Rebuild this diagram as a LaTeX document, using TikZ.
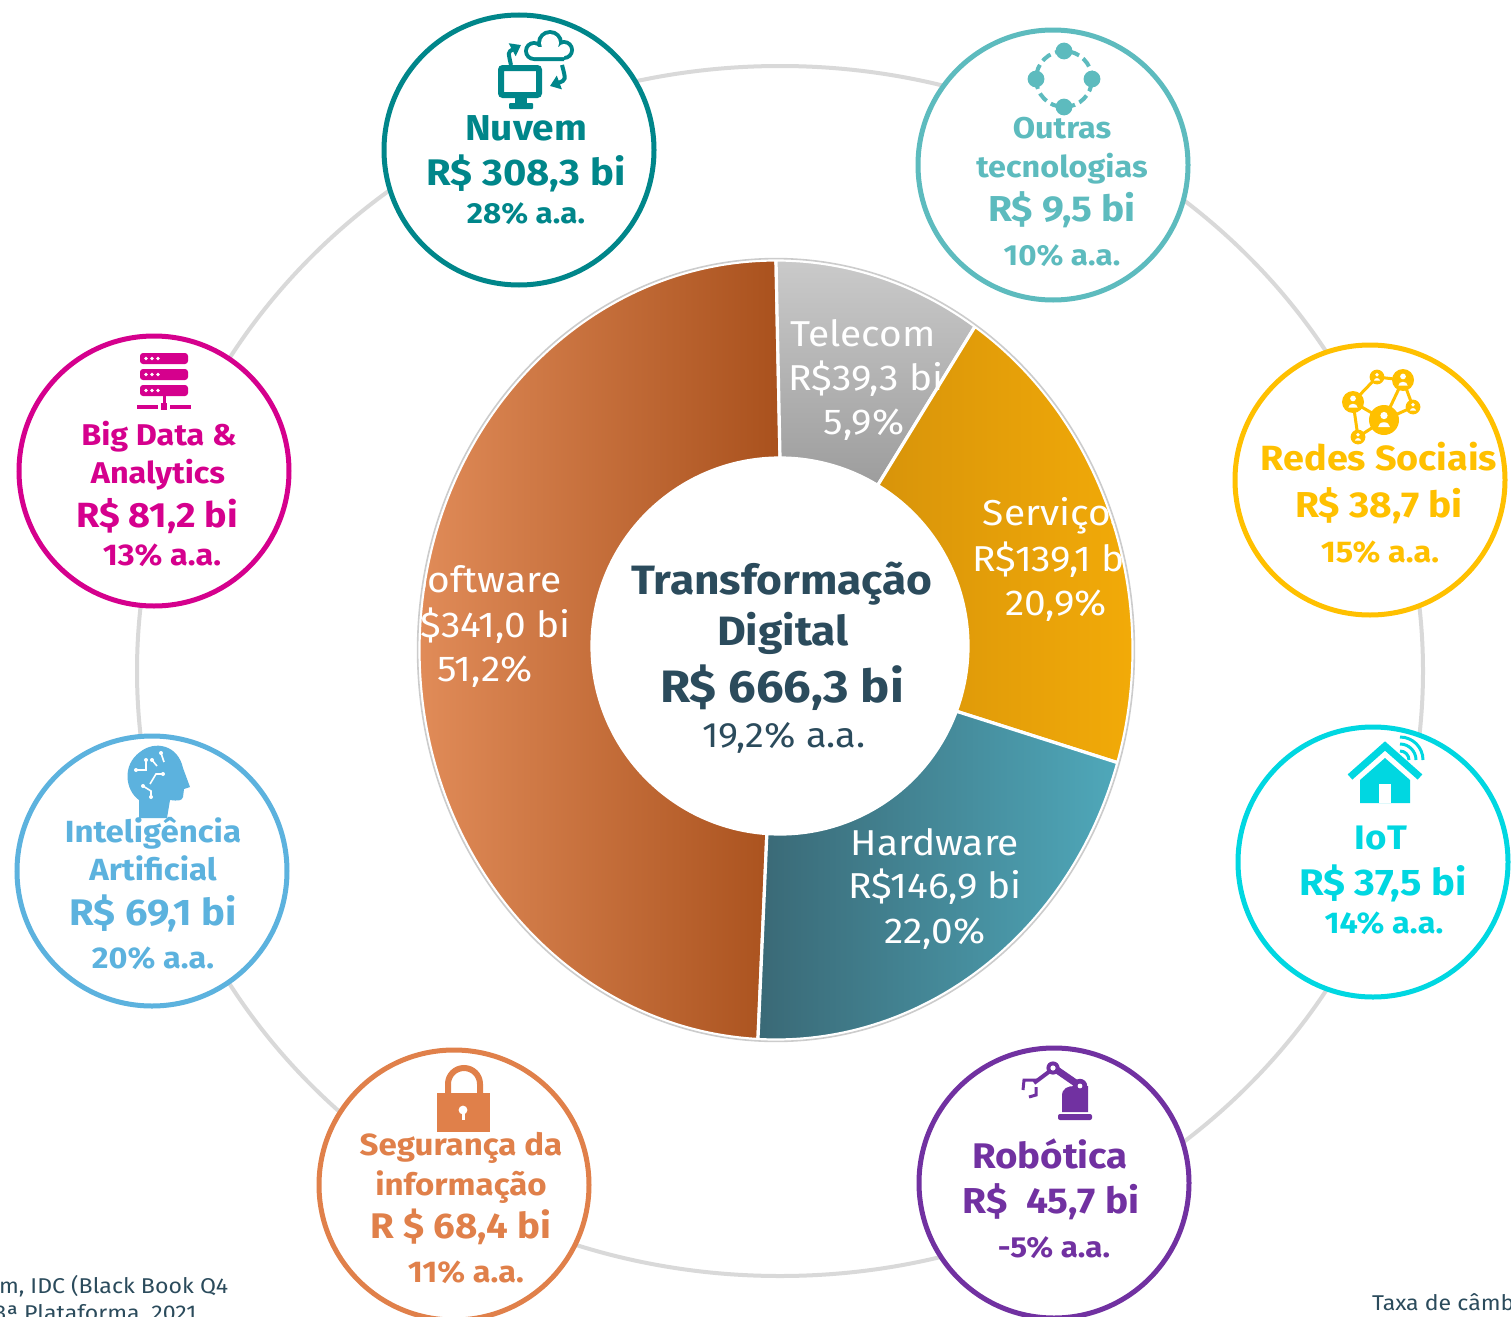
\documentclass[tikz,border=0pt]{standalone}
\usepackage{fontspec}
\setmainfont{Fira Sans}[FakeStretch=1.08]
\usetikzlibrary{calc,arrows.meta}
\definecolor{nuv}{HTML}{00868A}
\definecolor{outr}{HTML}{5DBBBE}
\definecolor{redes}{HTML}{FFC000}
\definecolor{bigd}{HTML}{D5008D}
\definecolor{iaC}{HTML}{5CB2DE}
\definecolor{iotC}{HTML}{00D7E1}
\definecolor{segC}{HTML}{E0804A}
\definecolor{robC}{HTML}{7131A1}
\definecolor{dark}{HTML}{2B4B5C}
\definecolor{ringC}{HTML}{D9D9D9}
\definecolor{swL}{HTML}{E28D5A}
\definecolor{swR}{HTML}{A9511D}
\definecolor{tcT}{HTML}{CACACA}
\definecolor{tcB}{HTML}{9D9D9D}
\definecolor{svL}{HTML}{D8940A}
\definecolor{svR}{HTML}{F5AD08}
\definecolor{hwL}{HTML}{3A6976}
\definecolor{hwR}{HTML}{4FA8BA}
\newcommand\myfs[1]{\fontsize{#1}{#1}\selectfont}
\newcommand\prs[3]{%
 \fill[white] (#1,{#2-0.32*#3}) circle[radius={#3*0.13pt}];
 \fill[white] ({#1-0.42*#3},{#2+0.5*#3}) arc[start angle=180,end angle=0,x radius={#3*0.21pt},y radius={#3*0.17pt}] -- cycle;}
\begin{document}
\begin{tikzpicture}[x=0.5pt,y=-0.5pt,
  txt/.style={inner sep=0pt,outer sep=0pt,anchor=base},
  bub/.style={circle,draw=#1,line width=2.5pt,fill=white,minimum size=135pt,inner sep=0pt},
  seg/.style={draw=white,line width=1.6pt},
  sl/.style={txt,text=white,font=\myfs{18}},
  foot/.style={txt,anchor=base west,text=dark,font=\myfs{10.7}}]
\useasboundingbox (0,0) rectangle (1511,1317);
\clip (0,0) rectangle (1511,1317);
\fill[white] (0,0) rectangle (1511,1317);
% gray ring
\draw[ringC,line width=2pt] (780,671) ellipse[x radius=321.5pt,y radius=302.5pt];
% bubbles
\node[bub=nuv] (cNuv) at (519,150) {};
\node[bub=outr] (cOut) at (1053,165) {};
\node[bub=redes] (cRed) at (1370,480) {};
\node[bub=bigd] (cBig) at (154,471) {};
\node[bub=iaC] (cIA) at (152,871) {};
\node[bub=iotC] (cIoT) at (1373,862) {};
\node[bub=segC] (cSeg) at (454,1185) {};
\node[bub=robC] (cRob) at (1054,1183) {};

% ---------- donut ----------
\coordinate (O) at (776,650);
\coordinate (I) at (780,646);
\path[seg,left color=swL,right color=swR] ($(I)+(-94:94pt)$) -- ($(O)+(-92.9:178.5pt and 195pt)$) arc[start angle=-92.9,end angle=-270,x radius=178.5pt,y radius=195pt] -- ($(I)+(90:94pt)$) arc[start angle=90,end angle=266,radius=94pt] -- cycle;
\path[seg,top color=tcT,bottom color=tcB] ($(I)+(90:94pt)$) -- ($(O)+(90:178.5pt and 195pt)$) arc[start angle=90,end angle=56.1,x radius=178.5pt,y radius=195pt] -- ($(I)+(58.7:94pt)$) arc[start angle=58.7,end angle=90,radius=94pt] -- cycle;
\path[seg,left color=svL,right color=svR] ($(I)+(58.7:94pt)$) -- ($(O)+(56.1:178.5pt and 195pt)$) arc[start angle=56.1,end angle=-16.8,x radius=178.5pt,y radius=195pt] -- ($(I)+(-20.3:94pt)$) arc[start angle=-20.3,end angle=58.7,radius=94pt] -- cycle;
\path[seg,left color=hwL,right color=hwR] ($(I)+(-20.3:94pt)$) -- ($(O)+(-16.8:178.5pt and 195pt)$) arc[start angle=-16.8,end angle=-92.9,x radius=178.5pt,y radius=195pt] -- ($(I)+(-94:94pt)$) arc[start angle=-94,end angle=-20.3,radius=94pt] -- cycle;
\draw[black!20,line width=0.8pt] (O) ellipse[x radius=179.2pt,y radius=195.7pt];
\begin{scope}
\clip (O) ellipse[x radius=178.5pt,y radius=195pt];
\node[sl] (tc1) at (863,346) {Telecom};
\node[sl] (tc2) at (866,390) {R\$39,3 bi};
\node[sl] (tc3) at (864,434) {5,9\%};
\node[sl] (sv1) at (1056,525) {Serviços};
\node[sl] (sv2) at (1054,571) {R\$139,1 bi};
\node[sl] (sv3) at (1056,615) {20,9\%};
\node[sl] (sw1) at (484,592) {Software};
\node[sl] (sw2) at (484,637) {R\$341,0 bi};
\node[sl] (sw3) at (485,681) {51,2\%};
\node[sl] (hw1) at (935,855) {Hardware};
\node[sl] (hw2) at (935,898) {R\$146,9 bi};
\node[sl] (hw3) at (935,943) {22,0\%};
\end{scope}
% center
\node[txt,text=dark,font=\bfseries\myfs{20.5}] (ct1) at (782,594) {Transformação};
\node[txt,text=dark,font=\bfseries\myfs{20.5}] (ct2) at (783,645) {Digital};
\node[txt,text=dark,font=\bfseries\myfs{22.7}] (ct3) at (782,702) {R\$ 666,3 bi};
\node[txt,text=dark,font=\myfs{17.6}] (ct4) at (784,747) {19,2\% a.a.};

% ---------- Nuvem ----------
\draw[nuv,line width=3pt,rounded corners=1pt] (501,68) rectangle (539,95);
\fill[nuv] (515,96) rectangle (527,104);
\fill[nuv,rounded corners=0.5pt] (509,103) rectangle (533,109);
\fill[nuv] (534,51) circle[radius=5pt] (550,43) circle[radius=6.5pt] (564,50) circle[radius=5pt] (534,44) rectangle (564,61);
\fill[white] (534,51) circle[radius=3pt] (550,43) circle[radius=4.5pt] (564,50) circle[radius=3pt] (534,47) rectangle (564,57);
\draw[nuv,line width=2pt,-{Triangle[length=5pt,width=7pt]}] (511,65) .. controls (508,52) .. (521,45);
\draw[nuv,line width=2pt,-{Triangle[length=5pt,width=7pt]}] (562,65) .. controls (566,80) .. (550,86);
\node[txt,text=nuv,font=\bfseries\myfs{18}] (nu1) at (526,140) {Nuvem};
\node[txt,text=nuv,font=\bfseries\myfs{18.5}] (nu2) at (526,185) {R\$ 308,3 bi};
\node[txt,text=nuv,font=\bfseries\myfs{14.5}] (nu3) at (526,223) {28\% a.a.};

% ---------- Outras ----------
\draw[outr,line width=2pt,dash pattern=on 5pt off 2.5pt,dash phase=1pt] (1064,79) circle[radius=14pt];
\fill[outr] (1064,51) circle[radius=4.2pt] (1036,79) circle[radius=4.2pt] (1092,79) circle[radius=4.2pt] (1064,107) circle[radius=4.2pt];
\node[txt,text=outr,font=\bfseries\myfs{15}] (ou1) at (1062,138) {Outras};
\node[txt,text=outr,font=\bfseries\myfs{15}] (ou2) at (1062,177) {tecnologias};
\node[txt,text=outr,font=\bfseries\myfs{18}] (ou3) at (1062,221) {R\$ 9,5 bi};
\node[txt,text=outr,font=\bfseries\myfs{14.5}] (ou4) at (1062,265) {10\% a.a.};

% ---------- Redes ----------
\draw[redes,line width=1.5pt] (1353,402) -- (1377,377) -- (1403,380) -- (1384,420) -- (1353,402) -- (1358,437) -- (1384,420) -- (1413,407) -- (1403,380);
\fill[redes] (1384,420) circle[radius=7.5pt] (1403,380) circle[radius=5.5pt] (1353,402) circle[radius=5.5pt] (1377,377) circle[radius=3.7pt] (1413,407) circle[radius=3.7pt] (1358,437) circle[radius=3.7pt];
\prs{1384}{420}{14}\prs{1403}{380}{11}\prs{1353}{402}{11}\prs{1377}{377}{7}\prs{1413}{407}{7}\prs{1358}{437}{7}
\node[txt,text=redes,font=\bfseries\myfs{17.5}] (re1) at (1379,470) {Redes Sociais};
\node[txt,text=redes,font=\bfseries\myfs{18}] (re2) at (1379,517) {R\$ 38,7 bi};
\node[txt,text=redes,font=\bfseries\myfs{15}] (re3) at (1380,562) {15\% a.a.};

% ---------- Big Data ----------
\foreach \yy in {353,369,385}{
  \fill[bigd,rounded corners=1.5pt] (140,\yy) rectangle (188,\yy+11);
  \fill[white] (146,\yy+5.5) circle[radius=0.9pt] (152,\yy+5.5) circle[radius=0.9pt] (158,\yy+5.5) circle[radius=0.9pt];}
\draw[bigd,line width=1.5pt] (164,396) -- (164,403);
\fill[bigd] (161,403) rectangle (167,410);
\draw[bigd,line width=2pt] (137,407) -- (158,407) (170,407) -- (191,407);
\node[txt,text=bigd,font=\bfseries\myfs{15}] (bd1) at (159,445) {Big Data \&};
\node[txt,text=bigd,font=\bfseries\myfs{15}] (bd2) at (158,483) {Analytics};
\node[txt,text=bigd,font=\bfseries\myfs{17.5}] (bd3) at (157,527) {R\$ 81,2 bi};
\node[txt,text=bigd,font=\bfseries\myfs{15}] (bd4) at (162,565) {13\% a.a.};

% ---------- IA ----------
\fill[iaC] (139,818) -- (139,800) .. controls (125,790) and (122,765) .. (140,752) .. controls (155,740) and (178,745) .. (183,768) -- (190,787) -- (184,789) -- (183,797) .. controls (182,801) and (178,801) .. (170,800) -- (167,818) -- cycle;
\draw[white,line width=0.8pt] (136,770) -- (146,770) -- (146,760) (150,784) -- (156,774) -- (163,774) (143,786) -- (151,791) -- (151,797) (161,753) -- (164,762) (152,760) -- (157,766);
\fill[white] (136,770) circle[radius=1pt] (146,760) circle[radius=1pt] (163,774) circle[radius=1pt] (143,786) circle[radius=1pt] (151,797) circle[radius=1pt] (161,753) circle[radius=1pt] (152,760) circle[radius=1pt];
\node[txt,text=iaC,font=\bfseries\myfs{15.3}] (ia1) at (153,842) {Inteligência};
\node[txt,text=iaC,font=\bfseries\myfs{15.3}] (ia2) at (153,880) {Artificial};
\node[txt,text=iaC,font=\bfseries\myfs{18.5}] (ia3) at (153,925) {R\$ 69,1 bi};
\node[txt,text=iaC,font=\bfseries\myfs{15}] (ia4) at (153,968) {20\% a.a.};

% ---------- IoT ----------
\draw[iotC,line width=3.5pt] (1350,777) -- (1385,746) -- (1420,777);
\fill[iotC] (1360,803) -- (1360,780) -- (1385,758) -- (1410,780) -- (1410,803) -- cycle;
\fill[white] (1379,784) rectangle (1391,803);
\draw[iotC,line width=1.5pt] (1409,760) arc[start angle=0,end angle=90,radius=4.5pt];
\draw[iotC,line width=1.5pt] (1416,760) arc[start angle=0,end angle=90,radius=8pt];
\draw[iotC,line width=1.5pt] (1423,760) arc[start angle=0,end angle=90,radius=11.5pt];
\node[txt,text=iotC,font=\bfseries\myfs{17}] (io1) at (1381,849) {IoT};
\node[txt,text=iotC,font=\bfseries\myfs{18.5}] (io2) at (1383,895) {R\$ 37,5 bi};
\node[txt,text=iotC,font=\bfseries\myfs{15}] (io3) at (1384,933) {14\% a.a.};

% ---------- Seguranca ----------
\draw[segC,line width=3pt] (448,1095) -- (448,1084) arc[start angle=180,end angle=0,radius=8pt] -- (480,1095);
\fill[segC] (437,1093) rectangle (490,1132);
\fill[white] (463,1110) circle[radius=2.2pt];
\fill[white] (461.5,1110) rectangle (464.5,1120);
\node[txt,text=segC,font=\bfseries\myfs{15.3}] (sg1) at (461,1155) {Segurança da};
\node[txt,text=segC,font=\bfseries\myfs{15.3}] (sg2) at (461,1195) {informação};
\node[txt,text=segC,font=\bfseries\myfs{17.8}] (sg3) at (461,1238) {R \$ 68,4 bi};
\node[txt,text=segC,font=\bfseries\myfs{15}] (sg4) at (466,1282) {11\% a.a.};

% ---------- Robotica ----------
\fill[robC,rounded corners=1pt] (1058,1114) rectangle (1092,1120);
\fill[robC] (1062,1112) -- (1062,1096) .. controls (1062,1088) and (1068,1086) .. (1075,1086) -- (1088,1086) -- (1088,1112) -- cycle;
\draw[robC,line width=3.5pt,line cap=round] (1054,1068) -- (1080,1086);
\fill[robC] (1080,1086) circle[radius=3.6pt];
\fill[white] (1080,1086) circle[radius=1.2pt];
\fill[robC] (1053,1068) circle[radius=3.3pt];
\fill[white] (1053,1068) circle[radius=1.3pt];
\draw[robC,line width=2pt] (1050,1071) -- (1034,1083);
\draw[robC,line width=1.5pt] (1037,1080) -- (1024,1080) -- (1023,1090) (1036,1087) -- (1036,1095) -- (1029,1097);
\node[txt,text=robC,font=\bfseries\myfs{17.8}] (rb1) at (1050,1168) {Robótica};
\node[txt,text=robC,font=\bfseries\myfs{18}] (rb2) at (1051,1213) {R\$\ \ 45,7 bi};
\node[txt,text=robC,font=\bfseries\myfs{14.5}] (rb3) at (1054,1257) {-5\% a.a.};

% ---------- footnotes ----------
\node[foot] (fn1) at (-1,1293) {m, IDC (Black Book Q4};
\node[foot] (fn2) at (-5,1320) {3ª Plataforma, 2021};
\node[foot] (fn3) at (1372,1310) {Taxa de câmbio};
\end{tikzpicture}
\end{document}
